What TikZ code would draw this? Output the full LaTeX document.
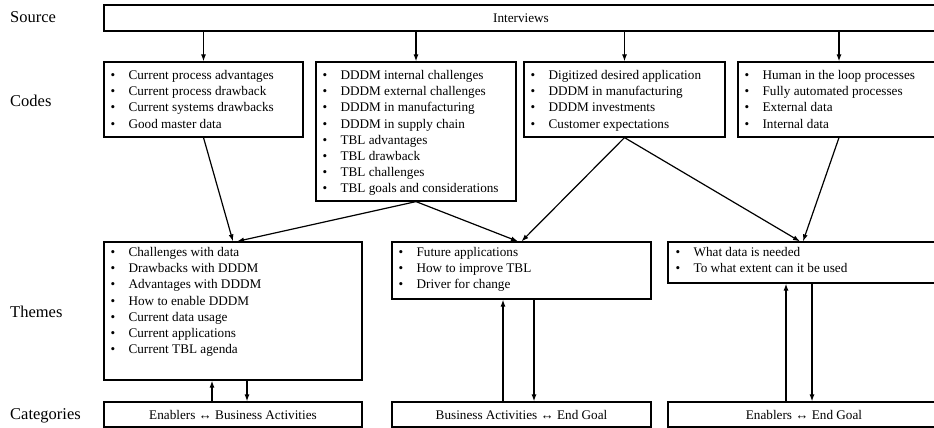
\documentclass[tikz,border=0pt]{standalone}
\usepackage{fontspec}
\setmainfont{Liberation Serif}
\usetikzlibrary{arrows.meta,calc}
\tikzset{
  box/.style={draw,line width=1.2pt,rectangle,inner sep=0pt},
  itemtext/.style={anchor=north west,inner sep=0pt,align=left,font=\fontsize{13.2}{16.1}\selectfont},
  boxtext/.style={font=\fontsize{13.2}{16}\selectfont},
  rowlabel/.style={anchor=base west,inner sep=0pt,font=\fontsize{16.5}{20}\selectfont},
  arr/.style={line width=1.2pt,-{Latex[length=7pt,width=5pt]}}
}
\newcommand{\itm}[1]{\makebox[18pt][l]{\textbullet}#1}

\begin{document}
\begin{tikzpicture}[x=1pt,y=-1pt]
\useasboundingbox (0,0) rectangle (934,428);

%row labels
\node[rowlabel] (lsource) at (10,23) {Source};
\node[rowlabel] (lcodes) at (10,106) {Codes};
\node[rowlabel] (lthemes) at (10,317) {Themes};
\node[rowlabel] (lcats) at (10,419) {Categories};

%source
\node[box,boxtext,minimum width=834,minimum height=26] (src) at (521,18) {Interviews};

%codes
\node[box,minimum width=199,minimum height=75] (code1) at (203.5,99.5) {};
\node[box,minimum width=200,minimum height=139] (code2) at (416,131.5) {};
\node[box,minimum width=201,minimum height=75] (code3) at (624.5,99.5) {};
\node[box,minimum width=202,minimum height=75] (code4) at (839,99.5) {};

\node[itemtext] (code1txt) at ([xshift=7pt,yshift=-9pt]code1.north west)
 {\itm{Current process advantages}\\\itm{Current process drawback}\\
  \itm{Current systems drawbacks}\\\itm{Good master data}};
\node[itemtext] (code2txt) at ([xshift=7pt,yshift=-9pt]code2.north west)
 {\itm{DDDM internal challenges}\\\itm{DDDM external challenges}\\
  \itm{DDDM in manufacturing}\\\itm{DDDM in supply chain}\\
  \itm{TBL advantages}\\\itm{TBL drawback}\\
  \itm{TBL challenges}\\\itm{TBL goals and considerations}};
\node[itemtext] (code3txt) at ([xshift=7pt,yshift=-9pt]code3.north west)
 {\itm{Digitized desired application}\\\itm{DDDM in manufacturing}\\
  \itm{DDDM investments}\\\itm{Customer expectations}};
\node[itemtext] (code4txt) at ([xshift=7pt,yshift=-9pt]code4.north west)
 {\itm{Human in the loop processes}\\\itm{Fully automated processes}\\
  \itm{External data}\\\itm{Internal data}};

%themes
\node[box,minimum width=258,minimum height=138] (theme1) at (233,311) {};
\node[box,minimum width=259,minimum height=57] (theme2) at (521.5,270.5) {};
\node[box,minimum width=272,minimum height=41] (theme3) at (804,262.5) {};

\node[itemtext] (theme1txt) at ([xshift=7pt,yshift=-6pt]theme1.north west)
 {\itm{Challenges with data}\\\itm{Drawbacks with DDDM}\\
  \itm{Advantages with DDDM}\\\itm{How to enable DDDM}\\
  \itm{Current data usage}\\\itm{Current applications}\\
  \itm{Current TBL agenda}};
\node[itemtext] (theme2txt) at ([xshift=7pt,yshift=-6pt]theme2.north west)
 {\itm{Future applications}\\\itm{How to improve TBL}\\\itm{Driver for change}};
\node[itemtext] (theme3txt) at ([xshift=8pt,yshift=-6pt]theme3.north west)
 {\itm{What data is needed}\\\itm{To what extent can it be used}};

%categories
\node[box,boxtext,minimum width=258,minimum height=25] (cat1) at (233,414.5) {Enablers ↔ Business Activities};
\node[box,boxtext,minimum width=259,minimum height=25] (cat2) at (521.5,414.5) {Business Activities ↔ End Goal};
\node[box,boxtext,minimum width=272,minimum height=25] (cat3) at (804,414.5) {Enablers ↔ End Goal};

%source to codes
\draw[arr] (src.south -| code1.north) -- (code1.north);
\draw[arr] (src.south -| code2.north) -- (code2.north);
\draw[arr] (src.south -| code3.north) -- (code3.north);
\draw[arr] (src.south -| code4.north) -- (code4.north);

%codes to themes
\draw[arr] (code1.south) -- (theme1.north);
\draw[arr] (code2.south) -- ([xshift=4pt]theme1.north);
\draw[arr] (code2.south) -- ([xshift=-3.5pt]theme2.north);
\draw[arr] (code3.south) -- (theme2.north);
\draw[arr] (code3.south) -- ([xshift=-4pt]theme3.north);
\draw[arr] (code4.south) -- ([xshift=-1pt]theme3.north);

%themes and categories
\draw[arr] ([xshift=-21pt]cat1.north) -- ([xshift=-21pt]theme1.south);
\draw[arr] ([xshift=14pt]theme1.south) -- ([xshift=14pt]cat1.north);
\draw[arr] ([xshift=-18.5pt]cat2.north) -- ([xshift=-18.5pt]theme2.south);
\draw[arr] ([xshift=12.5pt]theme2.south) -- ([xshift=12.5pt]cat2.north);
\draw[arr] ([xshift=-18pt]cat3.north) -- ([xshift=-18pt]theme3.south);
\draw[arr] ([xshift=8pt]theme3.south) -- ([xshift=8pt]cat3.north);
\end{tikzpicture}
\end{document}
